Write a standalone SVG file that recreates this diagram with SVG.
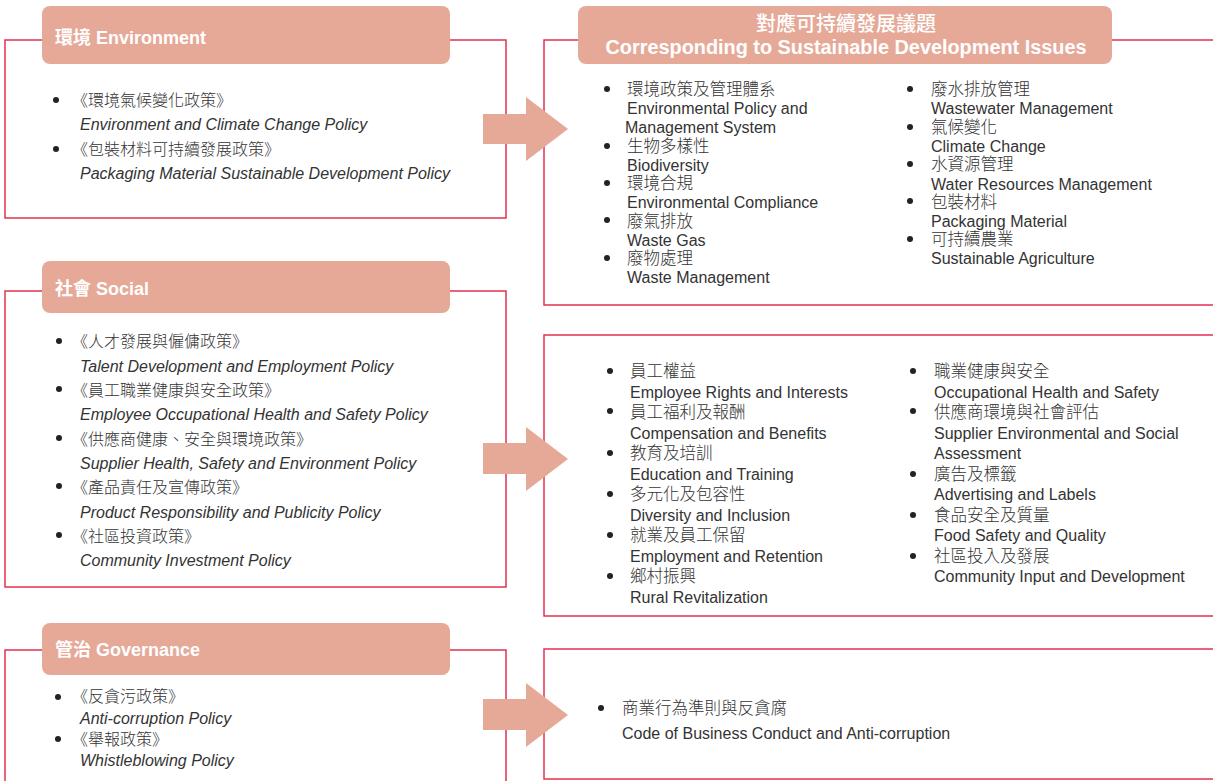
<svg xmlns="http://www.w3.org/2000/svg" width="1213" height="781" viewBox="0 0 1213 781">
<style>
.box{fill:none;stroke:#E2304F;stroke-width:1.5}
.pill{fill:#E6A998}
.arrow{fill:#E6A998}
.hd{font-family:"Liberation Sans","Noto Sans CJK TC",sans-serif;fill:#fff;font-size:18px;font-weight:bold}
.hz{font-family:"Noto Sans CJK TC",sans-serif;fill:#fff;font-size:20px;font-weight:500}
.he{font-family:"Liberation Sans",sans-serif;fill:#fff;font-size:19.5px;font-weight:bold}
.zh{font-family:"Noto Sans CJK TC",sans-serif;font-size:16px;fill:#333;font-weight:300}
.zr{font-family:"Noto Sans CJK TC",sans-serif;font-size:16.5px;fill:#333;font-weight:300}
.en{font-family:"Liberation Sans",sans-serif;font-size:16px;fill:#333}
.it{font-style:italic}
.dot{fill:#222}
</style>
<rect width="1213" height="781" fill="#fff"/>

<g id="env-policies">
<rect class="box" x="5" y="40" width="501" height="178"/>
<rect class="pill" x="42" y="6" width="408" height="58" rx="8"/>
<text class="hd" x="55" y="43.5">環境 Environment</text>
<circle class="dot" cx="56" cy="100" r="3"/>
<text class="zh" x="72" y="106">《環境氣候變化政策》</text>
<text class="en it" x="80" y="130">Environment and Climate Change Policy</text>
<circle class="dot" cx="56" cy="149" r="3"/>
<text class="zh" x="72" y="155">《包裝材料可持續發展政策》</text>
<text class="en it" x="80" y="179">Packaging Material Sustainable Development Policy</text>
</g>

<g id="env-issues">
<rect class="box" x="544" y="40" width="700" height="265"/>
<rect class="pill" x="578" y="6" width="534" height="58" rx="8"/>
<text class="hz" x="846" y="31" text-anchor="middle">對應可持續發展議題</text>
<text class="he" x="846" y="54" text-anchor="middle" textLength="481" lengthAdjust="spacingAndGlyphs">Corresponding to Sustainable Development Issues</text>
<circle class="dot" cx="607" cy="89" r="3"/>
<text class="zr" x="627" y="95">環境政策及管理體系</text>
<text class="en" x="627" y="114">Environmental Policy and</text>
<text class="en" x="625" y="133">Management System</text>
<circle class="dot" cx="607" cy="146" r="3"/>
<text class="zr" x="627" y="151.5">生物多樣性</text>
<text class="en" x="627" y="170.5">Biodiversity</text>
<circle class="dot" cx="607" cy="183" r="3"/>
<text class="zr" x="627" y="189">環境合規</text>
<text class="en" x="627" y="208">Environmental Compliance</text>
<circle class="dot" cx="607" cy="220" r="3"/>
<text class="zr" x="627" y="226.5">廢氣排放</text>
<text class="en" x="627" y="245.5">Waste Gas</text>
<circle class="dot" cx="607" cy="258" r="3"/>
<text class="zr" x="627" y="264">廢物處理</text>
<text class="en" x="627" y="283">Waste Management</text>

<circle class="dot" cx="910" cy="89" r="3"/>
<text class="zr" x="931" y="95">廢水排放管理</text>
<text class="en" x="931" y="114">Wastewater Management</text>
<circle class="dot" cx="910" cy="127" r="3"/>
<text class="zr" x="931" y="133">氣候變化</text>
<text class="en" x="931" y="152">Climate Change</text>
<circle class="dot" cx="910" cy="164" r="3"/>
<text class="zr" x="931" y="170">水資源管理</text>
<text class="en" x="931" y="189.5">Water Resources Management</text>
<circle class="dot" cx="910" cy="201" r="3"/>
<text class="zr" x="931" y="207.5">包裝材料</text>
<text class="en" x="931" y="226.5">Packaging Material</text>
<circle class="dot" cx="910" cy="239" r="3"/>
<text class="zr" x="931" y="245">可持續農業</text>
<text class="en" x="931" y="264">Sustainable Agriculture</text>
</g>

<g id="social-policies">
<rect class="box" x="5" y="291" width="501" height="296"/>
<rect class="pill" x="42" y="261" width="408" height="52" rx="8"/>
<text class="hd" x="55" y="294.5">社會 Social</text>
<circle class="dot" cx="59" cy="341" r="3"/>
<text class="zh" x="72" y="347">《人才發展與僱傭政策》</text>
<text class="en it" x="80" y="371.5">Talent Development and Employment Policy</text>
<circle class="dot" cx="59" cy="389" r="3"/>
<text class="zh" x="72" y="396">《員工職業健康與安全政策》</text>
<text class="en it" x="80" y="420">Employee Occupational Health and Safety Policy</text>
<circle class="dot" cx="59" cy="438" r="3"/>
<text class="zh" x="72" y="444.5">《供應商健康、安全與環境政策》</text>
<text class="en it" x="80" y="469">Supplier Health, Safety and Environment Policy</text>
<circle class="dot" cx="59" cy="486" r="3"/>
<text class="zh" x="72" y="493">《產品責任及宣傳政策》</text>
<text class="en it" x="80" y="517.5">Product Responsibility and Publicity Policy</text>
<circle class="dot" cx="59" cy="535" r="3"/>
<text class="zh" x="72" y="542">《社區投資政策》</text>
<text class="en it" x="80" y="566">Community Investment Policy</text>
</g>

<g id="social-issues">
<rect class="box" x="544" y="335" width="700" height="281"/>
<circle class="dot" cx="610" cy="371" r="3"/>
<text class="zr" x="630" y="377">員工權益</text>
<text class="en" x="630" y="397.5">Employee Rights and Interests</text>
<circle class="dot" cx="610" cy="411" r="3"/>
<text class="zr" x="630" y="418">員工福利及報酬</text>
<text class="en" x="630" y="438.5">Compensation and Benefits</text>
<circle class="dot" cx="610" cy="453" r="3"/>
<text class="zr" x="630" y="459">教育及培訓</text>
<text class="en" x="630" y="479.5">Education and Training</text>
<circle class="dot" cx="610" cy="494" r="3"/>
<text class="zr" x="630" y="500">多元化及包容性</text>
<text class="en" x="630" y="520.5">Diversity and Inclusion</text>
<circle class="dot" cx="610" cy="535" r="3"/>
<text class="zr" x="630" y="541">就業及員工保留</text>
<text class="en" x="630" y="561.5">Employment and Retention</text>
<circle class="dot" cx="610" cy="576" r="3"/>
<text class="zr" x="630" y="582">鄉村振興</text>
<text class="en" x="630" y="602.5">Rural Revitalization</text>

<circle class="dot" cx="913" cy="371" r="3"/>
<text class="zr" x="934" y="377">職業健康與安全</text>
<text class="en" x="934" y="397.5">Occupational Health and Safety</text>
<circle class="dot" cx="913" cy="411" r="3"/>
<text class="zr" x="934" y="418">供應商環境與社會評估</text>
<text class="en" x="934" y="438.5">Supplier Environmental and Social</text>
<text class="en" x="934" y="459">Assessment</text>
<circle class="dot" cx="913" cy="474" r="3"/>
<text class="zr" x="934" y="479.5">廣告及標籤</text>
<text class="en" x="934" y="500">Advertising and Labels</text>
<circle class="dot" cx="913" cy="515" r="3"/>
<text class="zr" x="934" y="520.5">食品安全及質量</text>
<text class="en" x="934" y="541">Food Safety and Quality</text>
<circle class="dot" cx="913" cy="556" r="3"/>
<text class="zr" x="934" y="561.5">社區投入及發展</text>
<text class="en" x="934" y="582">Community Input and Development</text>
</g>

<g id="gov-policies">
<path class="box" d="M5,790 V650 H506 V790"/>
<rect class="pill" x="42" y="623" width="408" height="52" rx="8"/>
<text class="hd" x="55" y="655.5">管治 Governance</text>
<circle class="dot" cx="58" cy="697" r="3"/>
<text class="zh" x="72" y="702">《反貪污政策》</text>
<text class="en it" x="80" y="724">Anti-corruption Policy</text>
<circle class="dot" cx="58" cy="739" r="3"/>
<text class="zh" x="72" y="745">《舉報政策》</text>
<text class="en it" x="80" y="766">Whistleblowing Policy</text>
</g>

<g id="gov-issues">
<rect class="box" x="544" y="649" width="700" height="130"/>
<circle class="dot" cx="601" cy="708" r="3"/>
<text class="zr" x="622" y="714">商業行為準則與反貪腐</text>
<text class="en" x="622" y="739">Code of Business Conduct and Anti-corruption</text>
</g>

<g id="connectors">
<polygon class="arrow" points="483,114 526,114 526,97 568,129 526,161 526,144 483,144"/>
<polygon class="arrow" points="483,443 526,443 526,427 568,459 526,491 526,474 483,474"/>
<polygon class="arrow" points="483,699 526,699 526,683 568,715 526,747 526,730 483,730"/>
</g>
</svg>
